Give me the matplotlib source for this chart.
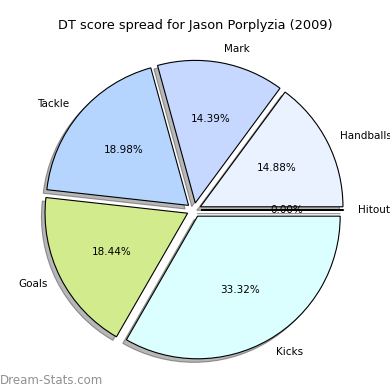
import matplotlib
matplotlib.use("Agg")
import matplotlib.pyplot as plt

labels = ["Hitout", "Handballs", "Mark", "Tackle", "Goals", "Kicks"]
shares = [0.0001, 14.88, 14.39, 18.98, 18.44, 33.32]
pct_text = ["0.00%", "14.88%", "14.39%", "18.98%", "18.44%", "33.32%"]
colors = ["#ffffff", "#eaf1ff", "#c6d8ff", "#b5d5ff", "#d1eb8d", "#dbffff"]

fig = plt.figure(figsize=(3.9, 3.9), dpi=100)
ax = fig.add_axes([0, 0, 1, 1])

# pie geometry in pixels
cx, cy, r = 194.0, 180.0, 142.6

wedges, texts, autotexts = ax.pie(
    shares, labels=labels, colors=colors, explode=[0.05] * len(shares),
    autopct="%1.2f%%", pctdistance=0.6, labeldistance=1.1,
    shadow={"ox": -0.018, "oy": -0.018, "shade": 0.6, "facecolor": "#707070",
            "edgecolor": "#404040"},
    startangle=0, counterclock=True,
    wedgeprops=dict(edgecolor="black", linewidth=0.8),
    textprops=dict(fontsize=7.5))
for t, s in zip(autotexts, pct_text):
    t.set_text(s)

ax.set_xlim(-cx / r, (390 - cx) / r)
ax.set_ylim(-cy / r, (390 - cy) / r)
ax.set_aspect("equal")
ax.axis("off")

fig.text(0.5, 0.935, "DT score spread for Jason Porplyzia (2009)", ha="center",
         va="center", fontsize=9.3)
fig.text(0.0, 0.025, "Dream-Stats.com", ha="left", va="center", fontsize=8.5,
         color="#909090")

fig.savefig("out.png", dpi=100)
